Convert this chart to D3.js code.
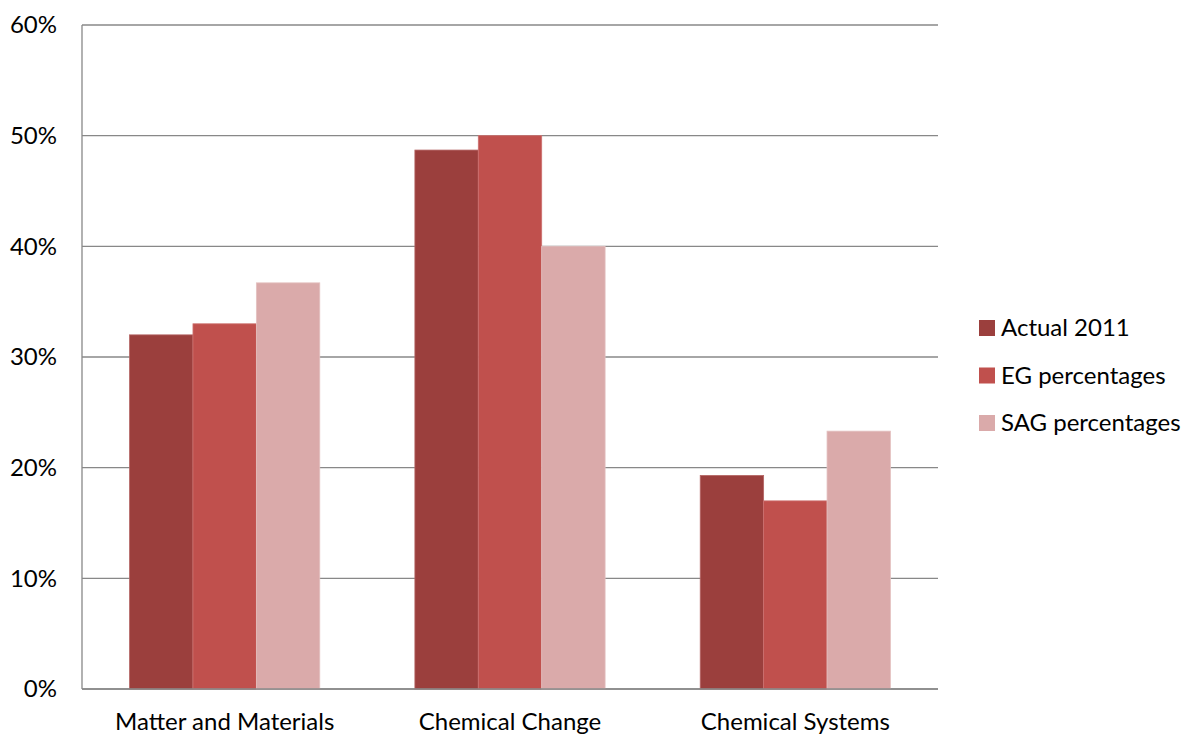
<!DOCTYPE html>
<html>
<head>
<meta charset="utf-8">
<script src="https://cdn.jsdelivr.net/npm/d3@7"></script>
<style>
  html, body { margin: 0; padding: 0; background: #fff; }
  svg text { font-family: Lato, "Open Sans", sans-serif; fill: #000; }
</style>
</head>
<body>
<svg id="chart" width="1189" height="735"></svg>
<script>
const categories = ["Matter and Materials", "Chemical Change", "Chemical Systems"];
const seriesNames = ["Actual 2011", "EG percentages", "SAG percentages"];
const actual2011 = [0.320, 0.487, 0.193];
const egPercentages = [0.330, 0.500, 0.170];
const sagPercentages = [0.367, 0.400, 0.233];
const yTicks = [0, 0.1, 0.2, 0.3, 0.4, 0.5, 0.6];
const colors = ["#9B3F3D", "#C0504D", "#DAAAAA"];
const borders = ["#B56665", "#CD7270", "#E4C1C0"];

const series = [actual2011, egPercentages, sagPercentages];

const svg = d3.select("#chart");
const plot = { left: 82, right: 938, top: 25, bottom: 689 };
const fs = "24px";

const x0 = d3.scaleBand().domain(categories).range([plot.left, plot.right]).paddingInner(0).paddingOuter(0);
const x1 = d3.scaleBand().domain(seriesNames).range([0, x0.bandwidth() * 3 / 4.5]);
const y = d3.scaleLinear().domain([0, 0.6]).range([plot.bottom, plot.top]);

// gridlines
svg.append("g").selectAll("line").data(yTicks).join("line")
  .attr("x1", plot.left).attr("x2", plot.right)
  .attr("y1", d => y(d)).attr("y2", d => y(d))
  .attr("stroke", "#888").attr("stroke-width", 1.3);

// y axis labels
const yAxis = d3.axisLeft(y).tickValues(yTicks).tickFormat(d3.format(".0%")).tickSize(0).tickPadding(25);
const ya = svg.append("g").attr("transform", `translate(${plot.left},0)`).call(yAxis);
ya.select(".domain").remove();
ya.selectAll("text").style("font-size", fs).attr("font-family", null);

// bars
const groups = svg.append("g").selectAll("g").data(categories).join("g")
  .attr("transform", d => `translate(${x0(d) + x0.bandwidth() * 0.75 / 4.5},0)`);
groups.selectAll("rect").data((c, i) => series.map((s, j) => ({ name: seriesNames[j], v: s[i], j })))
  .join("rect")
  .attr("x", d => x1(d.name))
  .attr("width", x1.bandwidth())
  .attr("y", d => y(d.v))
  .attr("height", d => y(0) - y(d.v))
  .attr("fill", d => colors[d.j])
  .attr("stroke", d => borders[d.j])
  .attr("stroke-width", 0.8);

// axes lines
svg.append("line").attr("x1", plot.left).attr("x2", plot.left).attr("y1", plot.top).attr("y2", plot.bottom)
  .attr("stroke", "#888").attr("stroke-width", 1.3);
svg.append("line").attr("x1", plot.left).attr("x2", plot.right).attr("y1", plot.bottom).attr("y2", plot.bottom)
  .attr("stroke", "#888").attr("stroke-width", 1.5);

// x labels
const xAxis = d3.axisBottom(x0).tickSize(0).tickPadding(24);
const xa = svg.append("g").attr("transform", `translate(0,${plot.bottom})`).call(xAxis);
xa.select(".domain").remove();
xa.selectAll("text").style("font-size", fs).attr("font-family", null);

// legend
const legend = svg.append("g").selectAll("g").data(seriesNames).join("g")
  .attr("transform", (d, i) => `translate(979,${320 + i * 47.5})`);
legend.append("rect").attr("width", 16).attr("height", 16).attr("fill", (d, i) => colors[i]);
legend.append("text").attr("x", 22).attr("y", 8).attr("dy", "0.35em")
  .style("font-size", fs).text(d => d);
</script>
</body>
</html>
